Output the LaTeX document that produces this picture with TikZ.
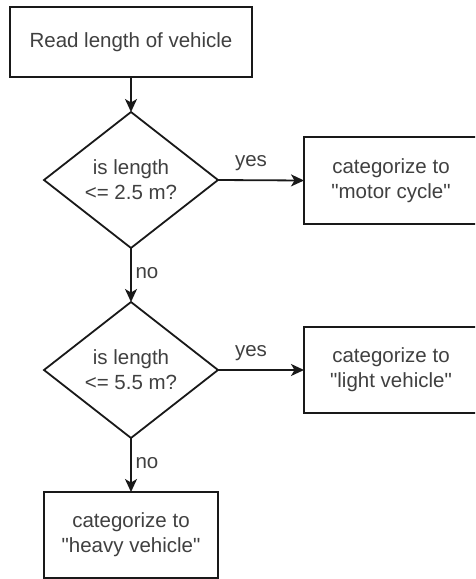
\documentclass[tikz,border=0pt]{standalone}
\usepackage{fontspec}
\setmainfont{Liberation Sans}[Ligatures=TeXOff]
\usetikzlibrary{shapes.geometric,arrows.meta}
\begin{document}
\begin{tikzpicture}[x=1pt,y=-1pt,
  font=\fontsize{20.5}{25}\selectfont,
  every node/.style={text=black!75, align=center, inner sep=0pt, outer sep=0pt},
  procbox/.style={draw=black!90, line width=1.8pt, rectangle},
  decision/.style={draw=black!90, line width=1.8pt, diamond, aspect=1.28,
    minimum width=174, minimum height=136},
  flow/.style={draw=black!90, line width=1.8pt,
    -{Stealth[length=13pt,width=12pt,inset=3.5pt]}},
  lbl/.style={text=black!75}]
\clip (0,0) rectangle (475,579);
\fill[white] (0,0) rectangle (475,579);

% process and decision steps
\node[procbox, minimum width=242, minimum height=70] (read) at (131,42) {Read length of vehicle};
\node[decision] (d1) at (131,180) {is length\\<= 2.5 m?};
\node[procbox, minimum width=174, minimum height=87] (moto) at (391,180.5) {categorize to\\"motor cycle"};
\node[decision] (d2) at (131,370) {is length\\<= 5.5 m?};
\node[procbox, minimum width=174, minimum height=86] (light) at (391,370) {categorize to\\"light vehicle"};
\node[procbox, minimum width=174, minimum height=86] (heavy) at (131,535) {categorize to\\"heavy vehicle"};

% connectors
\draw[flow] (read) -- (d1);
\draw[flow] (d1.east) -- (moto.west);
\draw[flow] (d1.south) -- (d2.north);
\draw[flow] (d2.east) -- (light.west);
\draw[flow] (d2.south) -- (heavy.north);

% branch labels
\node[lbl] (yes1) at (251,163) {yes};
\node[lbl] (no1) at (147,273) {no};
\node[lbl] (yes2) at (251,353) {yes};
\node[lbl] (no2) at (147,463) {no};
\end{tikzpicture}
\end{document}
